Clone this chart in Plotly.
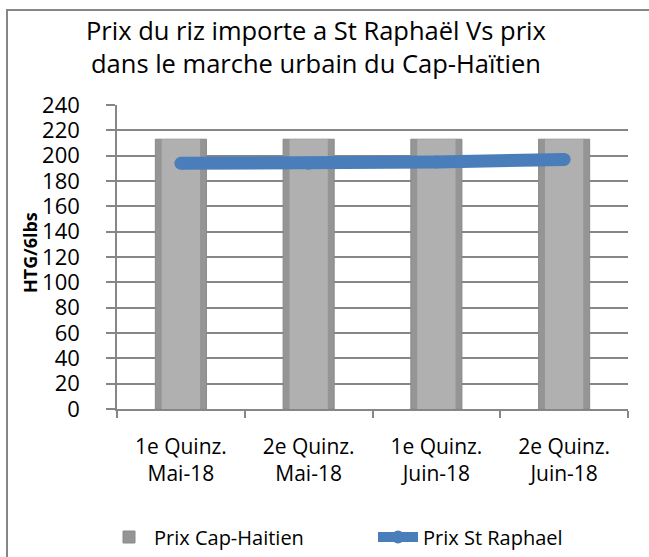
import plotly.graph_objects as go

categories = ["1e Quinz.<br>Mai-18", "2e Quinz.<br>Mai-18", "1e Quinz.<br>Juin-18", "2e Quinz.<br>Juin-18"]
prix_cap_haitien = [213, 213, 213, 213]
prix_st_raphael = [194, 194, 195, 197]
y_ticks = list(range(0, 241, 20))
title_text = "Prix du riz importe a St Raphaël Vs prix<br>dans le marche urbain du Cap-Haïtien"
y_title = "<b>HTG/6lbs</b>"

FONT = "Open Sans, Carlito, Calibri, sans-serif"
GRID = "#868686"

PLOT_LEFT, PLOT_RIGHT = 117, 628
PLOT_TOP, PLOT_BOTTOM = 105, 409
PH = PLOT_BOTTOM - PLOT_TOP
PW = PLOT_RIGHT - PLOT_LEFT


def ypaper(py):
    return (PLOT_BOTTOM - py) / PH


def xpaper(px):
    return (px - PLOT_LEFT) / PW


fig = go.Figure()
fig.add_trace(go.Bar(
    x=categories, y=prix_cap_haitien, name="Prix Cap-Haitien",
    width=0.4, marker=dict(color="#959595", line=dict(color="#8a8a8a", width=1)),
    hoverinfo="skip", legend="legend",
))
fig.add_trace(go.Bar(
    x=categories, y=prix_cap_haitien, name="Prix Cap-Haitien", showlegend=False,
    width=0.3, marker=dict(color="#b0b0b0", line=dict(width=0)),
    hoverinfo="skip",
))
fig.add_trace(go.Scatter(
    x=categories, y=prix_st_raphael, name="Prix St Raphael",
    mode="lines+markers",
    line=dict(color="#4a7ebb", width=13),
    marker=dict(color="#4a7ebb", size=13),
    legend="legend2",
))

annotations = [
    dict(text=title_text, xref="paper", yref="paper", x=xpaper(316), y=ypaper(47),
         xanchor="center", yanchor="middle", showarrow=False,
         font=dict(family=FONT, size=25.5, color="black")),
    dict(text=y_title, xref="paper", yref="paper", x=xpaper(30), y=ypaper(253),
         xanchor="center", yanchor="middle", showarrow=False, textangle=-90,
         font=dict(family=FONT, size=18, color="black")),
]

legend_common = dict(
    orientation="h", xanchor="left", y=ypaper(537), yanchor="middle",
    font=dict(family=FONT, size=20, color="black"),
    itemwidth=40, bgcolor="rgba(0,0,0,0)",
)

fig.update_layout(
    width=649, height=557,
    paper_bgcolor="white", plot_bgcolor="white",
    barmode="overlay",
    margin=dict(l=PLOT_LEFT, r=649 - PLOT_RIGHT, t=PLOT_TOP, b=557 - PLOT_BOTTOM, autoexpand=False),
    font=dict(family=FONT, color="black", size=20),
    annotations=annotations,
    showlegend=True,
    legend=dict(x=xpaper(104), **legend_common),
    legend2=dict(x=xpaper(373), **legend_common),
    shapes=[dict(
        type="rect", xref="paper", yref="paper",
        x0=xpaper(7), x1=1.2, y0=-0.7, y1=ypaper(10),
        line=dict(color="#868686", width=2), fillcolor="rgba(0,0,0,0)", layer="below",
    )],
)
fig.update_xaxes(
    type="category",
    showline=True, linecolor=GRID, linewidth=1.5,
    ticks="outside", tickson="boundaries", ticklen=7, tickcolor=GRID, tickwidth=1.5,
    ticklabelstandoff=18,
    tickfont=dict(family=FONT, size=21, color="black"),
    showgrid=False,
)
fig.update_yaxes(
    range=[0, 240], tickvals=y_ticks,
    showline=True, linecolor=GRID, linewidth=1.5,
    ticks="outside", ticklen=9, tickcolor=GRID, tickwidth=1.5,
    ticklabelstandoff=22,
    showgrid=True, gridcolor=GRID, gridwidth=1.5,
    tickfont=dict(family=FONT, size=22, color="black"),
    zeroline=False,
)

fig.write_html(
    "out.html",
    config={"displayModeBar": False},
    post_script="document.body.style.margin='0';document.body.style.overflow='hidden';",
)
